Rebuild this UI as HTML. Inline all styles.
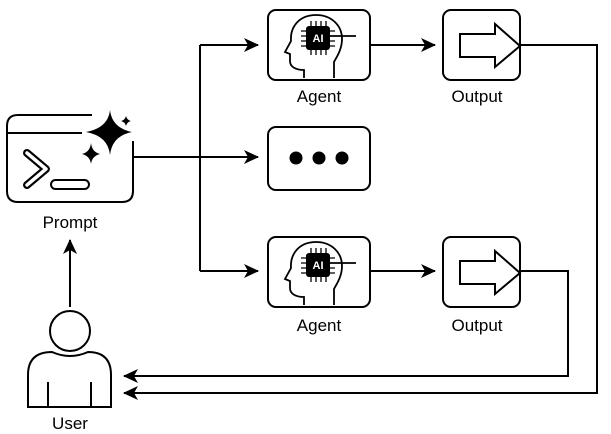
<!DOCTYPE html>
<html><head><style>html,body{margin:0;padding:0;background:#fff}svg{display:block}</style></head>
<body>
<svg width="611" height="434" viewBox="0 0 611 434" xmlns="http://www.w3.org/2000/svg" font-family="Liberation Sans, sans-serif">
<defs>
<marker id="a" markerWidth="16" markerHeight="14" refX="14" refY="7" orient="auto" markerUnits="userSpaceOnUse">
<path d="M0,0 L15,7 L0,14 L4,7 Z" fill="#000"/></marker>
<g id="agent">
<rect x="0" y="0" width="102" height="70" rx="8" fill="#fff" stroke="#000" stroke-width="2"/>
<path d="M36,68 L36,60 C28,60 22,57 22,51 L22,44 L17,42 L23,31 C22,16 32,5 48,5 C63,5 74,15 74,29 C74,40 68,48 66,52 L66,68" fill="none" stroke="#000" stroke-width="1.8"/>
<rect x="38" y="16" width="24" height="24" rx="3" fill="#000"/>
<text x="50" y="32" font-size="11" font-weight="bold" fill="#fff" text-anchor="middle">AI</text>
<path d="M43,16v-5M48,16v-5M53,16v-5M58,16v-5M43,40v5M48,40v5M53,40v5M58,40v5M38,21h-5M38,26h-5M38,31h-5M38,36h-5M62,21h5M62,31h5M62,36h5" stroke="#000" stroke-width="1.3"/>
<path d="M62,26 H88" stroke="#000" stroke-width="1.8"/>
</g>
<g id="out">
<rect x="0" y="0" width="77" height="70" rx="8" fill="#fff" stroke="#000" stroke-width="2"/>
<path d="M17,24 H52 V14 L77,36 L52,57 V47 H17 Z" fill="#fff" stroke="#000" stroke-width="2"/>
</g>
</defs>
<g stroke="#000" stroke-width="2" fill="none">
<path d="M133,157 H200"/>
<path d="M200,45 V271"/>
<path d="M200,45 H258" marker-end="url(#a)"/>
<path d="M200,157 H258" marker-end="url(#a)"/>
<path d="M200,271 H258" marker-end="url(#a)"/>
<path d="M370,45 H435" marker-end="url(#a)"/>
<path d="M370,271 H435" marker-end="url(#a)"/>
<path d="M520,45 H597 V393 H124" marker-end="url(#a)"/>
<path d="M520,271 H568 V376 H124" marker-end="url(#a)"/>
<path d="M70,307 V240" marker-end="url(#a)"/>
</g>
<use href="#agent" x="268" y="10"/>
<use href="#agent" x="268" y="237"/>
<use href="#out" x="443" y="10"/>
<use href="#out" x="443" y="237"/>
<rect x="268" y="127" width="102" height="63" rx="8" fill="#fff" stroke="#000" stroke-width="2"/>
<circle cx="296" cy="158" r="6.5"/><circle cx="319" cy="158" r="6.5"/><circle cx="342" cy="158" r="6.5"/>
<path d="M92,115 H18 Q7,115 7,126 V191 Q7,202 18,202 H122 Q133,202 133,191 V141" fill="none" stroke="#000" stroke-width="2"/>
<path d="M7,133 H82" stroke="#000" stroke-width="2"/>
<path d="M110,110 Q112,128 132,132 Q112,136 110,155 Q108,136 86,132 Q108,128 110,110Z" fill="#000"/>
<path d="M126,116 Q127,120 131,121 Q127,122 126,126 Q125,122 121,121 Q125,120 126,116Z" fill="#000"/>
<path d="M91,143 Q92,152 100,154 Q92,156 91,164 Q90,156 82,154 Q90,152 91,143Z" fill="#000"/>
<path d="M27,153 L46,169 L27,185" fill="none" stroke="#000" stroke-width="8" stroke-linecap="round" stroke-linejoin="round"/>
<path d="M27,153 L46,169 L27,185" fill="none" stroke="#fff" stroke-width="3.5" stroke-linecap="round" stroke-linejoin="round"/>
<rect x="51" y="180" width="38" height="9" rx="4.5" fill="#fff" stroke="#000" stroke-width="2"/>
<circle cx="70" cy="331" r="20" fill="#fff" stroke="#000" stroke-width="2"/>
<path d="M28,407 V375 Q28,352 52,352 Q70,360 88,352 Q111,352 111,375 V407 Z" fill="#fff" stroke="#000" stroke-width="2"/>
<path d="M48,382 V407 M91,382 V407" stroke="#000" stroke-width="2"/>
<g font-size="17" fill="#000" text-anchor="middle">
<text x="70" y="228">Prompt</text>
<text x="319" y="102">Agent</text>
<text x="477" y="102">Output</text>
<text x="319" y="331">Agent</text>
<text x="477" y="331">Output</text>
<text x="70" y="429">User</text>
</g>
</svg>
</body></html>
